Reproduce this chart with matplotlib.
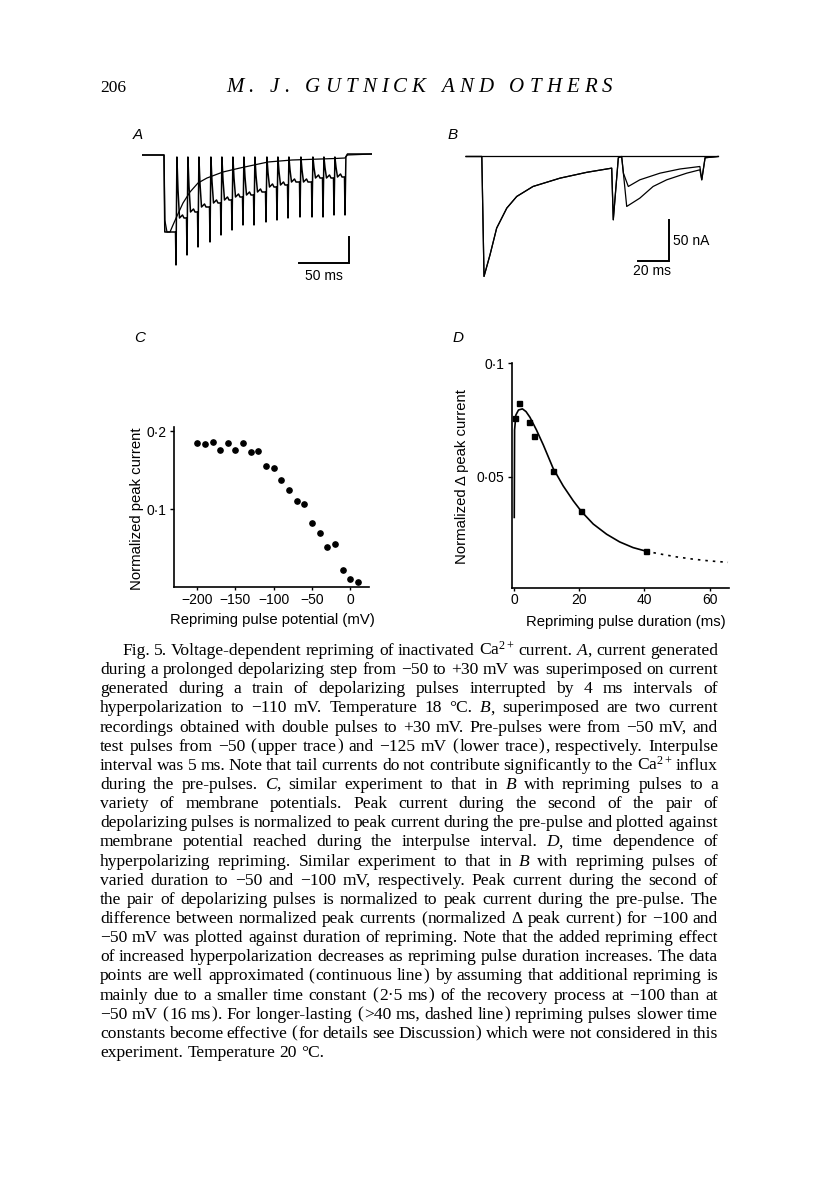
import matplotlib
matplotlib.use("Agg")
import matplotlib.pyplot as plt
from matplotlib.ticker import FixedLocator, FixedFormatter

plt.rcParams["mathtext.fontset"] = "custom"
plt.rcParams["mathtext.rm"] = "Liberation Serif"
plt.rcParams["mathtext.it"] = "Liberation Serif:italic"

W, H = 816, 1183
SANS = ["Liberation Sans", "DejaVu Sans"]
SERIF = "Liberation Serif"

# ---- panel A: train of depolarizing pulses (ms, current in arbitrary units, inward = negative)
a_spike_t = [34, 45, 56, 68, 79, 90, 101, 112, 124, 135, 146, 158, 170, 181, 192, 203]
a_spike_depth = [110, 100, 92, 87, 80, 75, 70, 70, 67, 65, 63, 62, 62, 62, 60, 60]
a_plateau = [77, 63, 57, 52, 48, 45, 42, 40, 37, 32, 30, 27, 27, 23, 23, 22]
a_step_onset = 22
# prolonged step, superimposed
a_step_t = [0, 22, 22.8, 25, 28, 31, 35, 41, 48, 56, 65, 81, 98, 126, 150, 193, 203, 205, 230]
a_step_i = [0, 0, -65, -77, -77, -70, -61, -48, -37, -28, -23, -17, -13, -7, -5, -3.5, -3, 0, 1]

# ---- panel B: double pulses (ms, nA)
b_pre_t = [0, 10, 11.4, 15.2, 19.4, 25.8, 32.1, 42.4, 59.5, 76.4, 92.2, 93.2, 96.4, 98.5, 99.6]
b_pre_i = [0, 0, -144, -118, -86, -62, -48, -36, -26, -19, -14, -76, -1.5, 0, -20]
b_up_t = [102.7, 110, 122.8, 135.4, 148, 149.2, 151.3, 159.5]
b_up_i = [-36, -28, -20, -15, -12, -28, -1.5, 0]
b_low_t = [101.7, 110, 118.4, 127, 139.7, 148, 149.2, 151.3, 159.5]
b_low_i = [-60, -50, -36, -28, -20, -16, -28, -1.5, 0]

# ---- panel C
c_mv = [-200, -190, -180, -170, -160, -150, -140, -130, -120, -110, -100,
        -90, -80, -70, -60, -50, -40, -30, -20, -10, 0, 10]
c_peak = [0.185, 0.184, 0.186, 0.176, 0.185, 0.176, 0.185, 0.173, 0.175, 0.155, 0.153,
          0.138, 0.125, 0.111, 0.107, 0.082, 0.070, 0.052, 0.056, 0.022, 0.011, 0.007]

# ---- panel D
d_ms = [0.4, 1.5, 4.6, 6.3, 12, 20.7, 40.5]
d_delta = [0.0757, 0.0824, 0.0740, 0.0680, 0.0526, 0.0349, 0.0174]
d_fit_t = [0.1, 0.2, 0.6, 1.4, 2.6, 3.7, 4.9, 6.9, 9.0, 12.0, 15.1, 18.2, 20.7,
           24.3, 28.4, 32.4, 36.5, 40.5]
d_fit_v = [0.032, 0.0706, 0.0772, 0.0794, 0.0799, 0.0787, 0.0762, 0.0706, 0.064,
           0.0537, 0.0459, 0.0393, 0.0346, 0.0291, 0.0246, 0.0212, 0.0187, 0.0171]
d_ext_t = [40.5, 44.7, 49.8, 54.9, 60.0, 65.6]
d_ext_v = [0.0171, 0.0159, 0.0146, 0.0136, 0.0128, 0.0122]

caption = [
    "Fig. 5. Voltage-dependent repriming of inactivated Ca$^{2+}$ current. _A_, current generated",
    "during a prolonged depolarizing step from −50 to +30 mV was superimposed on current",
    "generated during a train of depolarizing pulses interrupted by 4 ms intervals of",
    "hyperpolarization to −110 mV. Temperature 18 °C. _B_, superimposed are two current",
    "recordings obtained with double pulses to +30 mV. Pre-pulses were from −50 mV, and",
    "test pulses from −50 (upper trace) and −125 mV (lower trace), respectively. Interpulse",
    "interval was 5 ms. Note that tail currents do not contribute significantly to the Ca$^{2+}$ influx",
    "during the pre-pulses. _C_, similar experiment to that in _B_ with repriming pulses to a",
    "variety of membrane potentials. Peak current during the second of the pair of",
    "depolarizing pulses is normalized to peak current during the pre-pulse and plotted against",
    "membrane potential reached during the interpulse interval. _D_, time dependence of",
    "hyperpolarizing repriming. Similar experiment to that in _B_ with repriming pulses of",
    "varied duration to −50 and −100 mV, respectively. Peak current during the second of",
    "the pair of depolarizing pulses is normalized to peak current during the pre-pulse. The",
    "difference between normalized peak currents (normalized Δ peak current) for −100 and",
    "−50 mV was plotted against duration of repriming. Note that the added repriming effect",
    "of increased hyperpolarization decreases as repriming pulse duration increases. The data",
    "points are well approximated (continuous line) by assuming that additional repriming is",
    "mainly due to a smaller time constant (2·5 ms) of the recovery process at −100 than at",
    "−50 mV (16 ms). For longer-lasting (>40 ms, dashed line) repriming pulses slower time",
    "constants become effective (for details see Discussion) which were not considered in this",
    "experiment. Temperature 20 °C.",
]


def box(fig, x0, y0, x1, y1):
    # axes placed by its pixel box on the page
    return fig.add_axes([x0 / W, 1 - y1 / H, (x1 - x0) / W, (y1 - y0) / H])


def train_trace():
    t = [0, a_step_onset, a_step_onset + 0.8]
    i = [0, 0, -a_plateau[0]]
    n = len(a_spike_t)
    for k in range(n):
        ts = a_spike_t[k]
        t += [ts - 0.5, ts, ts + 0.9]
        i += [-a_plateau[k], -a_spike_depth[k], -2]
        if k < n - 1:
            p = a_plateau[k + 1]
            t += [ts + 2.0, ts + 3.5, ts + 6.5, ts + 8.0]
            i += [-0.55 * p, -p, -p + 3, -p]
    t += [ts + 2.5, 230]
    i += [1, 1]
    return t, i


fig = plt.figure(figsize=(W / 100, H / 100), dpi=100)
fig.patch.set_facecolor("white")

# panel letters
for lab, x, y in [("A", 138, 135), ("B", 453, 135), ("C", 140, 338), ("D", 458, 338)]:
    fig.text(x / W, 1 - y / H, lab, fontsize=11, family=SANS, style="italic",
             ha="center", va="center")

# ---- A
axA = box(fig, 142, 150, 372, 282)
axA.set_xlim(0, 230)
axA.set_ylim(-127, 5)
axA.axis("off")
tt, ii = train_trace()
axA.plot(tt, ii, color="black", lw=1.1)
axA.plot(a_step_t, a_step_i, color="black", lw=0.9)
axA.plot([207, 207, 157], [-82, -108, -108], color="black", lw=1.4, solid_joinstyle="miter")
axA.text(182, -121, "50 ms", fontsize=10, family=SANS, ha="center", va="center")

# ---- B
axB = box(fig, 460, 150, 725, 285)
axB.set_xlim(-3.8, 163.9)
axB.set_ylim(-154.3, 7.8)
axB.axis("off")
axB.plot([0, 159.5], [0, 0], color="black", lw=0.9)
axB.plot(b_pre_t + b_up_t, b_pre_i + b_up_i, color="black", lw=0.9)
axB.plot(b_pre_t + b_low_t, b_pre_i + b_low_i, color="black", lw=0.9)
axB.plot([128.7, 128.7, 108.7], [-76, -126, -126], color="black", lw=1.4, solid_joinstyle="miter")
axB.text(131, -101, "50 nA", fontsize=10, family=SANS, ha="left", va="center")
axB.text(117.7, -138, "20 ms", fontsize=10, family=SANS, ha="center", va="center")


def style_axes(ax):
    for s in ["top", "right"]:
        ax.spines[s].set_visible(False)
    for s in ["left", "bottom"]:
        ax.spines[s].set_linewidth(1.2)
    ax.tick_params(axis="y", direction="out", length=3, width=1, pad=2.5, labelsize=10)
    ax.tick_params(axis="x", direction="out", length=2, width=1, pad=2, labelsize=10)
    for t in ax.get_xticklabels() + ax.get_yticklabels():
        t.set_family(SANS)


# ---- C
axC = box(fig, 174.3, 426.7, 369.3, 587.3)
axC.plot(c_mv, c_peak, "o", color="black", ms=3.8)
axC.set_xlim(-230, 25)
axC.set_ylim(0, 0.206)
axC.xaxis.set_major_locator(FixedLocator([-200, -150, -100, -50, 0]))
axC.xaxis.set_major_formatter(FixedFormatter(["−200", "−150", "−100", "−50", "0"]))
axC.yaxis.set_major_locator(FixedLocator([0.1, 0.2]))
axC.yaxis.set_major_formatter(FixedFormatter(["0·1", "0·2"]))
axC.set_xlabel("Repriming pulse potential (mV)", fontsize=10.7, family=SANS, va="center")
axC.set_ylabel("Normalized peak current", fontsize=10.7, family=SANS, va="center")
axC.xaxis.set_label_coords(0.501, -0.204)
axC.yaxis.set_label_coords(-0.193, 0.49)
style_axes(axC)

# ---- D
axD = box(fig, 512.3, 363.3, 729.3, 587.7)
axD.plot(d_fit_t, d_fit_v, color="black", lw=1.2)
axD.plot(d_ext_t, d_ext_v, color="black", lw=1.2, linestyle=(0, (1.5, 3)))
axD.plot(d_ms, d_delta, "s", color="black", ms=3.6)
axD.set_xlim(-0.5, 66)
axD.set_ylim(0.001, 0.1)
axD.xaxis.set_major_locator(FixedLocator([0, 20, 40, 60]))
axD.xaxis.set_major_formatter(FixedFormatter(["0", "20", "40", "60"]))
axD.yaxis.set_major_locator(FixedLocator([0.05, 0.1]))
axD.yaxis.set_major_formatter(FixedFormatter(["0·05", "0·1"]))
axD.set_xlabel("Repriming pulse duration (ms)", fontsize=10.7, family=SANS, va="center")
axD.set_ylabel("Normalized Δ peak current", fontsize=10.7, family=SANS, va="center")
axD.xaxis.set_label_coords(0.522, -0.152)
axD.yaxis.set_label_coords(-0.233, 0.495)
style_axes(axD)

fig.canvas.draw()
r = fig.canvas.get_renderer()


def place_run(pieces, left, right, y, size, justify, style="normal"):
    # pieces: list of lists of (string, italic?) ; spread the gaps so the run fills left..right
    # a piece that is just [(" ", False)] stands for an extra word space
    texts, widths = [], []
    for p in pieces:
        row, ws = [], []
        for s, it in p:
            if s == " ":
                row.append(None)
                ws.append(0.3 * size * 100 / 72)
                continue
            t = fig.text(0, 0, s, fontsize=size, family=SERIF,
                         style="italic" if (it or style == "italic") else "normal",
                         va="baseline")
            row.append(t)
            ws.append(t.get_window_extent(r).width)
        texts.append(row)
        widths.append(ws)
    total = sum(sum(w) for w in widths)
    if justify and len(texts) > 1:
        gap = (right - left - total) / (len(texts) - 1)
    else:
        gap = 0.25 * size * 100 / 72
    x = left
    for row, ws in zip(texts, widths):
        for t, w in zip(row, ws):
            if t is not None:
                t.set_position((x / W, 1 - y / H))
            x += w
        x += gap


def split_word(word):
    # italic between underscores; brackets go through mathtext so they sit on the baseline
    out = []
    for j, s in enumerate(word.split("_")):
        buf = ""
        for ch in s:
            if ch in "()":
                if buf:
                    out.append((buf, j % 2 == 1))
                    buf = ""
                out.append(("$" + ch + "$", False))
            else:
                buf += ch
        if buf:
            out.append((buf, j % 2 == 1))
    return out


# header, with the wide letter spacing of the running head
place_run([[("206", False)]], 100, 130, 92, 12.5, False)
head = "M. J. GUTNICK AND OTHERS"
place_run([[(ch, False)] for ch in head], 226, 612, 92, 15, True, style="italic")

# caption, justified word by word
for k, line in enumerate(caption):
    pieces = [split_word(w) for w in line.split(" ")]
    left = 100 + (22 if k == 0 else 0)
    place_run(pieces, left, 718, 655 + k * 19.14, 12.6, k < len(caption) - 1)

fig.savefig("out.png", dpi=100)
